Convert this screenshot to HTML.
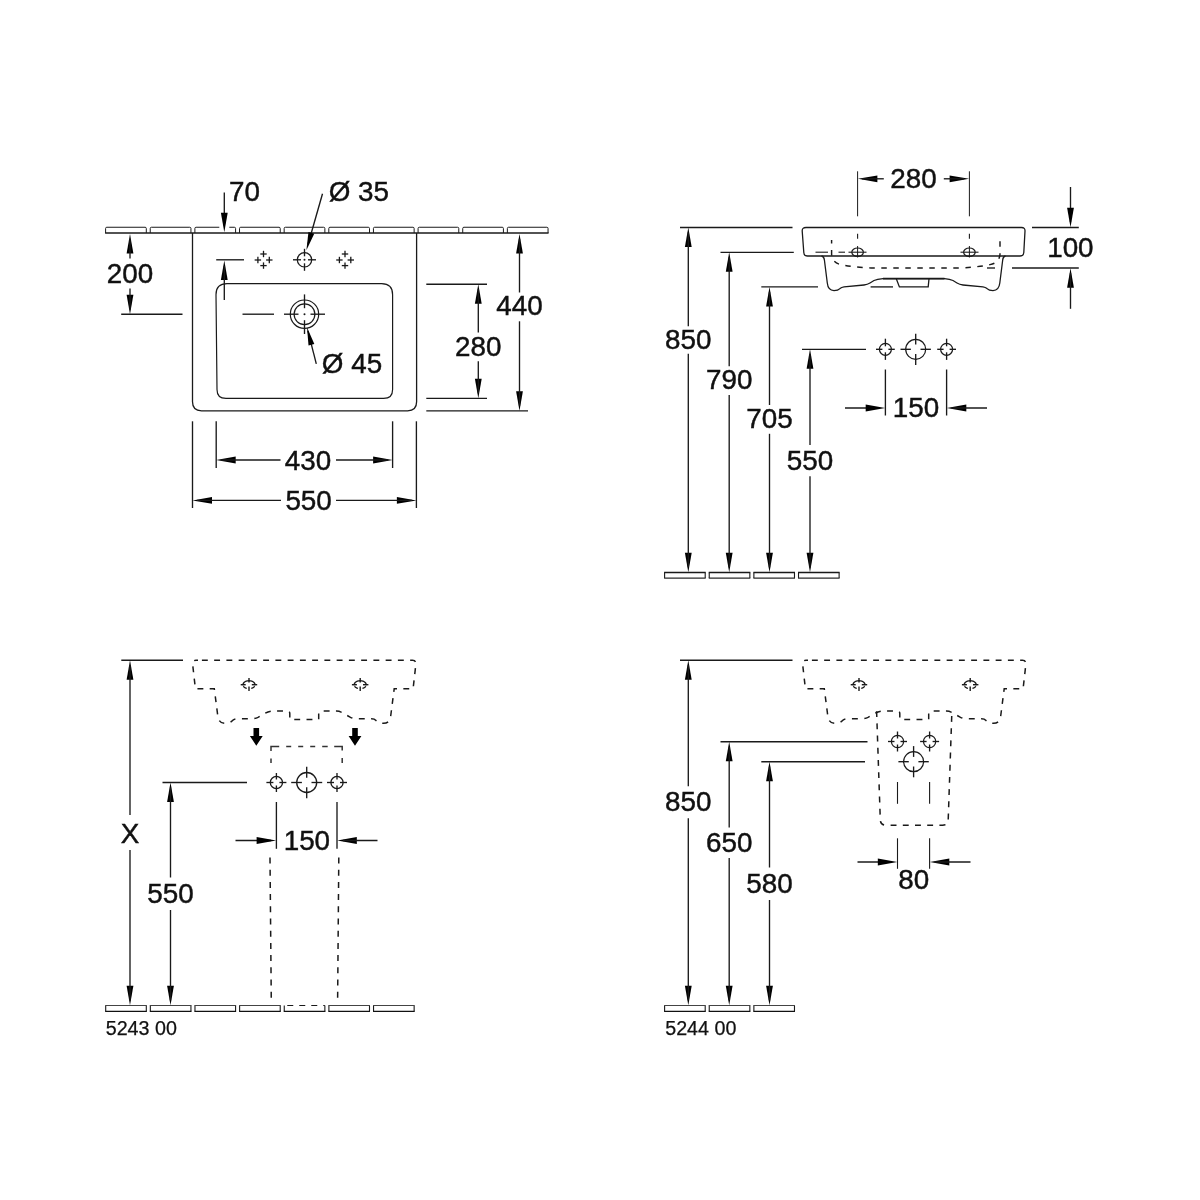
<!DOCTYPE html>
<html lang="en">
<head>
<meta charset="utf-8">
<title>Washbasin technical drawing 5243 00 / 5244 00</title>
<style>
html,body{margin:0;padding:0;background:#fff;}
body{width:1200px;height:1200px;overflow:hidden;}
svg{display:block;filter:grayscale(1);}
svg text{font-family:"Liberation Sans",sans-serif;fill:#111;}
</style>
</head>
<body>
<svg width="1200" height="1200" viewBox="0 0 1200 1200">
<rect width="1200" height="1200" fill="#fff"/>
<path d="M105.60,233.00 V228.45 Q105.60,227.25 106.80,227.25 H145.10 Q146.30,227.25 146.30,228.45 V233.00" fill="none" stroke="#1a1a1a" stroke-width="1.0" />
<path d="M150.24,233.00 V228.45 Q150.24,227.25 151.44,227.25 H189.74 Q190.94,227.25 190.94,228.45 V233.00" fill="none" stroke="#1a1a1a" stroke-width="1.0" />
<path d="M194.88,233.00 V228.45 Q194.88,227.25 196.08,227.25 H234.38 Q235.58,227.25 235.58,228.45 V233.00" fill="none" stroke="#1a1a1a" stroke-width="1.0" />
<path d="M239.52,233.00 V228.45 Q239.52,227.25 240.72,227.25 H279.02 Q280.22,227.25 280.22,228.45 V233.00" fill="none" stroke="#1a1a1a" stroke-width="1.0" />
<path d="M284.16,233.00 V228.45 Q284.16,227.25 285.36,227.25 H323.66 Q324.86,227.25 324.86,228.45 V233.00" fill="none" stroke="#1a1a1a" stroke-width="1.0" />
<path d="M328.80,233.00 V228.45 Q328.80,227.25 330.00,227.25 H368.30 Q369.50,227.25 369.50,228.45 V233.00" fill="none" stroke="#1a1a1a" stroke-width="1.0" />
<path d="M373.44,233.00 V228.45 Q373.44,227.25 374.64,227.25 H412.94 Q414.14,227.25 414.14,228.45 V233.00" fill="none" stroke="#1a1a1a" stroke-width="1.0" />
<path d="M418.08,233.00 V228.45 Q418.08,227.25 419.28,227.25 H457.58 Q458.78,227.25 458.78,228.45 V233.00" fill="none" stroke="#1a1a1a" stroke-width="1.0" />
<path d="M462.72,233.00 V228.45 Q462.72,227.25 463.92,227.25 H502.22 Q503.42,227.25 503.42,228.45 V233.00" fill="none" stroke="#1a1a1a" stroke-width="1.0" />
<path d="M507.36,233.00 V228.45 Q507.36,227.25 508.56,227.25 H546.86 Q548.06,227.25 548.06,228.45 V233.00" fill="none" stroke="#1a1a1a" stroke-width="1.0" />
<line x1="105.10" y1="233.00" x2="548.56" y2="233.00" stroke="#1a1a1a" stroke-width="1.6" />
<path d="M192.5,233.0 V401.8 Q192.5,410.8 201.5,410.8 H407.6 Q416.6,410.8 416.6,401.8 V233.0" fill="none" stroke="#1a1a1a" stroke-width="1.3" />
<path d="M227.0,283.7 H381.6 Q392.6,283.7 392.6,294.7 V389.4 Q392.6,398.4 383.6,398.4 H226.0 Q217.0,398.4 217.0,389.4 L216.0,294.7 Q216.0,283.7 227.0,283.7 Z" fill="none" stroke="#1a1a1a" stroke-width="1.2" />
<circle cx="304.50" cy="259.80" r="7.20" fill="none" stroke="#1a1a1a" stroke-width="1.2" />
<line x1="293.00" y1="259.80" x2="301.00" y2="259.80" stroke="#1a1a1a" stroke-width="1.35" />
<line x1="308.00" y1="259.80" x2="316.00" y2="259.80" stroke="#1a1a1a" stroke-width="1.35" />
<line x1="304.50" y1="248.80" x2="304.50" y2="256.30" stroke="#1a1a1a" stroke-width="1.35" />
<line x1="304.50" y1="263.30" x2="304.50" y2="270.80" stroke="#1a1a1a" stroke-width="1.35" />
<circle cx="304.50" cy="259.80" r="1.0" fill="#1a1a1a"/>
<line x1="260.30" y1="254.00" x2="266.70" y2="254.00" stroke="#1a1a1a" stroke-width="1.3" />
<line x1="263.50" y1="250.80" x2="263.50" y2="257.20" stroke="#1a1a1a" stroke-width="1.3" />
<line x1="254.70" y1="260.00" x2="261.10" y2="260.00" stroke="#1a1a1a" stroke-width="1.3" />
<line x1="257.90" y1="256.80" x2="257.90" y2="263.20" stroke="#1a1a1a" stroke-width="1.3" />
<line x1="266.10" y1="260.00" x2="272.50" y2="260.00" stroke="#1a1a1a" stroke-width="1.3" />
<line x1="269.30" y1="256.80" x2="269.30" y2="263.20" stroke="#1a1a1a" stroke-width="1.3" />
<line x1="260.30" y1="265.60" x2="266.70" y2="265.60" stroke="#1a1a1a" stroke-width="1.3" />
<line x1="263.50" y1="262.40" x2="263.50" y2="268.80" stroke="#1a1a1a" stroke-width="1.3" />
<line x1="341.80" y1="254.00" x2="348.20" y2="254.00" stroke="#1a1a1a" stroke-width="1.3" />
<line x1="345.00" y1="250.80" x2="345.00" y2="257.20" stroke="#1a1a1a" stroke-width="1.3" />
<line x1="336.20" y1="260.00" x2="342.60" y2="260.00" stroke="#1a1a1a" stroke-width="1.3" />
<line x1="339.40" y1="256.80" x2="339.40" y2="263.20" stroke="#1a1a1a" stroke-width="1.3" />
<line x1="347.60" y1="260.00" x2="354.00" y2="260.00" stroke="#1a1a1a" stroke-width="1.3" />
<line x1="350.80" y1="256.80" x2="350.80" y2="263.20" stroke="#1a1a1a" stroke-width="1.3" />
<line x1="341.80" y1="265.60" x2="348.20" y2="265.60" stroke="#1a1a1a" stroke-width="1.3" />
<line x1="345.00" y1="262.40" x2="345.00" y2="268.80" stroke="#1a1a1a" stroke-width="1.3" />
<circle cx="304.50" cy="314.20" r="14.20" fill="none" stroke="#1a1a1a" stroke-width="1.2" />
<circle cx="304.50" cy="314.20" r="10.40" fill="none" stroke="#1a1a1a" stroke-width="1.2" />
<line x1="284.00" y1="314.20" x2="298.50" y2="314.20" stroke="#1a1a1a" stroke-width="1.35" />
<line x1="310.50" y1="314.20" x2="325.00" y2="314.20" stroke="#1a1a1a" stroke-width="1.35" />
<line x1="304.50" y1="294.40" x2="304.50" y2="308.20" stroke="#1a1a1a" stroke-width="1.35" />
<line x1="304.50" y1="320.20" x2="304.50" y2="334.00" stroke="#1a1a1a" stroke-width="1.35" />
<circle cx="304.50" cy="314.20" r="1.0" fill="#1a1a1a"/>
<line x1="216.20" y1="259.80" x2="244.00" y2="259.80" stroke="#1a1a1a" stroke-width="1.35" />
<line x1="242.50" y1="314.20" x2="274.00" y2="314.20" stroke="#1a1a1a" stroke-width="1.35" />
<line x1="121.20" y1="314.20" x2="182.50" y2="314.20" stroke="#1a1a1a" stroke-width="1.35" />
<polygon points="130.00,234.00 133.40,253.50 126.60,253.50" fill="#000"/>
<polygon points="130.00,314.20 126.60,294.70 133.40,294.70" fill="#000"/>
<line x1="130.00" y1="239.00" x2="130.00" y2="258.50" stroke="#1a1a1a" stroke-width="1.35" />
<line x1="130.00" y1="288.50" x2="130.00" y2="309.20" stroke="#1a1a1a" stroke-width="1.35" />
<text x="130.00" y="282.70" font-size="27.8" text-anchor="middle" stroke="#111" stroke-width="0.45">200</text>
<rect x="219.3" y="225.5" width="10" height="4.2" fill="#fff"/>
<line x1="224.30" y1="192.50" x2="224.30" y2="218.00" stroke="#1a1a1a" stroke-width="1.35" />
<polygon points="224.30,232.20 220.90,212.70 227.70,212.70" fill="#000"/>
<polygon points="224.30,260.50 227.70,280.00 220.90,280.00" fill="#000"/>
<line x1="224.30" y1="266.00" x2="224.30" y2="300.00" stroke="#1a1a1a" stroke-width="1.35" />
<text x="244.50" y="201.40" font-size="27.8" text-anchor="middle" stroke="#111" stroke-width="0.45">70</text>
<text x="358.80" y="201.40" font-size="27.8" text-anchor="middle" stroke="#111" stroke-width="0.45">&#216; 35</text>
<line x1="322.50" y1="193.80" x2="308.01" y2="244.56" stroke="#1a1a1a" stroke-width="1.35" />
<polygon points="306.40,250.20 308.46,232.07 314.23,233.71" fill="#000"/>
<text x="352.00" y="372.60" font-size="27.8" text-anchor="middle" stroke="#111" stroke-width="0.45">&#216; 45</text>
<line x1="316.30" y1="363.80" x2="307.93" y2="330.86" stroke="#1a1a1a" stroke-width="1.35" />
<polygon points="307.00,327.20 314.34,343.91 308.53,345.38" fill="#000"/>
<line x1="426.30" y1="284.20" x2="487.00" y2="284.20" stroke="#1a1a1a" stroke-width="1.35" />
<line x1="426.30" y1="398.30" x2="487.00" y2="398.30" stroke="#1a1a1a" stroke-width="1.35" />
<polygon points="478.30,284.20 481.70,303.70 474.90,303.70" fill="#000"/>
<polygon points="478.30,398.30 474.90,378.80 481.70,378.80" fill="#000"/>
<line x1="478.30" y1="289.20" x2="478.30" y2="332.50" stroke="#1a1a1a" stroke-width="1.35" />
<line x1="478.30" y1="361.30" x2="478.30" y2="393.30" stroke="#1a1a1a" stroke-width="1.35" />
<text x="478.30" y="355.60" font-size="27.8" text-anchor="middle" stroke="#111" stroke-width="0.45">280</text>
<line x1="426.30" y1="410.80" x2="528.00" y2="410.80" stroke="#1a1a1a" stroke-width="1.35" />
<polygon points="519.50,234.00 522.90,253.50 516.10,253.50" fill="#000"/>
<polygon points="519.50,410.80 516.10,391.30 522.90,391.30" fill="#000"/>
<line x1="519.50" y1="239.00" x2="519.50" y2="292.50" stroke="#1a1a1a" stroke-width="1.35" />
<line x1="519.50" y1="321.30" x2="519.50" y2="405.80" stroke="#1a1a1a" stroke-width="1.35" />
<text x="519.50" y="315.20" font-size="27.8" text-anchor="middle" stroke="#111" stroke-width="0.45">440</text>
<line x1="216.20" y1="421.30" x2="216.20" y2="468.00" stroke="#1a1a1a" stroke-width="1.35" />
<line x1="392.60" y1="421.30" x2="392.60" y2="468.00" stroke="#1a1a1a" stroke-width="1.35" />
<polygon points="216.20,460.00 235.70,456.60 235.70,463.40" fill="#000"/>
<polygon points="392.60,460.00 373.10,463.40 373.10,456.60" fill="#000"/>
<line x1="221.00" y1="460.00" x2="280.50" y2="460.00" stroke="#1a1a1a" stroke-width="1.35" />
<line x1="336.00" y1="460.00" x2="388.00" y2="460.00" stroke="#1a1a1a" stroke-width="1.35" />
<text x="308.00" y="469.60" font-size="27.8" text-anchor="middle" stroke="#111" stroke-width="0.45">430</text>
<line x1="192.50" y1="421.30" x2="192.50" y2="508.00" stroke="#1a1a1a" stroke-width="1.35" />
<line x1="416.40" y1="421.30" x2="416.40" y2="508.00" stroke="#1a1a1a" stroke-width="1.35" />
<polygon points="192.50,500.40 212.00,497.00 212.00,503.80" fill="#000"/>
<polygon points="416.40,500.40 396.90,503.80 396.90,497.00" fill="#000"/>
<line x1="197.00" y1="500.40" x2="281.00" y2="500.40" stroke="#1a1a1a" stroke-width="1.35" />
<line x1="336.00" y1="500.40" x2="412.00" y2="500.40" stroke="#1a1a1a" stroke-width="1.35" />
<text x="308.60" y="510.10" font-size="27.8" text-anchor="middle" stroke="#111" stroke-width="0.45">550</text>
<path d="M664.60,572.40 V578.10 M705.20,572.40 V578.10" fill="none" stroke="#1a1a1a" stroke-width="1.1" />
<line x1="664.10" y1="578.10" x2="705.70" y2="578.10" stroke="#2a2a2a" stroke-width="1.2" />
<line x1="664.10" y1="572.40" x2="705.70" y2="572.40" stroke="#1a1a1a" stroke-width="1.5" />
<path d="M709.24,572.40 V578.10 M749.84,572.40 V578.10" fill="none" stroke="#1a1a1a" stroke-width="1.1" />
<line x1="708.74" y1="578.10" x2="750.34" y2="578.10" stroke="#2a2a2a" stroke-width="1.2" />
<line x1="708.74" y1="572.40" x2="750.34" y2="572.40" stroke="#1a1a1a" stroke-width="1.5" />
<path d="M753.88,572.40 V578.10 M794.48,572.40 V578.10" fill="none" stroke="#1a1a1a" stroke-width="1.1" />
<line x1="753.38" y1="578.10" x2="794.98" y2="578.10" stroke="#2a2a2a" stroke-width="1.2" />
<line x1="753.38" y1="572.40" x2="794.98" y2="572.40" stroke="#1a1a1a" stroke-width="1.5" />
<path d="M798.52,572.40 V578.10 M839.12,572.40 V578.10" fill="none" stroke="#1a1a1a" stroke-width="1.1" />
<line x1="798.02" y1="578.10" x2="839.62" y2="578.10" stroke="#2a2a2a" stroke-width="1.2" />
<line x1="798.02" y1="572.40" x2="839.62" y2="572.40" stroke="#1a1a1a" stroke-width="1.5" />
<line x1="680.00" y1="227.50" x2="792.50" y2="227.50" stroke="#1a1a1a" stroke-width="1.35" />
<polygon points="688.30,227.50 691.70,247.00 684.90,247.00" fill="#000"/>
<polygon points="688.30,572.20 684.90,552.70 691.70,552.70" fill="#000"/>
<line x1="688.30" y1="232.50" x2="688.30" y2="326.30" stroke="#1a1a1a" stroke-width="1.35" />
<line x1="688.30" y1="353.80" x2="688.30" y2="567.20" stroke="#1a1a1a" stroke-width="1.35" />
<text x="688.30" y="348.90" font-size="27.8" text-anchor="middle" stroke="#111" stroke-width="0.45">850</text>
<line x1="720.50" y1="252.30" x2="793.80" y2="252.30" stroke="#1a1a1a" stroke-width="1.35" />
<polygon points="729.20,252.30 732.60,271.80 725.80,271.80" fill="#000"/>
<polygon points="729.20,572.20 725.80,552.70 732.60,552.70" fill="#000"/>
<line x1="729.20" y1="257.30" x2="729.20" y2="366.30" stroke="#1a1a1a" stroke-width="1.35" />
<line x1="729.20" y1="395.00" x2="729.20" y2="567.20" stroke="#1a1a1a" stroke-width="1.35" />
<text x="729.20" y="389.30" font-size="27.8" text-anchor="middle" stroke="#111" stroke-width="0.45">790</text>
<line x1="761.30" y1="286.90" x2="818.00" y2="286.90" stroke="#1a1a1a" stroke-width="1.35" />
<polygon points="769.50,286.90 772.90,306.40 766.10,306.40" fill="#000"/>
<polygon points="769.50,572.20 766.10,552.70 772.90,552.70" fill="#000"/>
<line x1="769.50" y1="291.90" x2="769.50" y2="405.00" stroke="#1a1a1a" stroke-width="1.35" />
<line x1="769.50" y1="433.80" x2="769.50" y2="567.20" stroke="#1a1a1a" stroke-width="1.35" />
<text x="769.50" y="428.40" font-size="27.8" text-anchor="middle" stroke="#111" stroke-width="0.45">705</text>
<line x1="802.00" y1="349.30" x2="866.00" y2="349.30" stroke="#1a1a1a" stroke-width="1.35" />
<polygon points="810.00,349.30 813.40,368.80 806.60,368.80" fill="#000"/>
<polygon points="810.00,572.20 806.60,552.70 813.40,552.70" fill="#000"/>
<line x1="810.00" y1="354.30" x2="810.00" y2="445.00" stroke="#1a1a1a" stroke-width="1.35" />
<line x1="810.00" y1="476.30" x2="810.00" y2="567.20" stroke="#1a1a1a" stroke-width="1.35" />
<text x="810.00" y="470.10" font-size="27.8" text-anchor="middle" stroke="#111" stroke-width="0.45">550</text>
<path d="M806,227.5 H1021.5 Q1025.2,227.5 1025,231 L1023.8,252.5 Q1023.5,256 1020,256 H807.5 Q804,256 803.8,252.5 L802.2,231 Q802,227.5 806,227.5 Z" fill="none" stroke="#1a1a1a" stroke-width="1.3" />
<path d="M821.5,256 Q824,256.5 824.4,260 L827.3,283 Q828,290.4 834,290.6 Q838,290.6 840,288.6 Q841.5,287.2 844,286.9 L864,285 Q867.5,284.6 870,283 L874,280.5 Q877,279.3 883,278.7 H944.5 Q950,279.3 953,280.5 L957,283 Q959.5,284.6 963,285 L983,286.9 Q985.5,287.2 987,288.6 Q989,290.6 993,290.6 Q999,290.4 999.8,283 L1002.7,260 Q1003,256.5 1005.5,256" fill="none" stroke="#1a1a1a" stroke-width="1.3" />
<path d="M896.3,278.7 L899.4,286.9 H928.2 L929,278.7" fill="none" stroke="#1a1a1a" stroke-width="1.3" />
<line x1="883.00" y1="278.70" x2="944.50" y2="278.70" stroke="#1a1a1a" stroke-width="1.7" />
<path d="M831.6,240 V254 Q832,263 841,264.6 Q850,266.8 871,268 H960 Q981,266.8 990,264.6 Q999.5,263 1000,254 V240" fill="none" stroke="#1a1a1a" stroke-width="1.45" stroke-dasharray="5.5 6.5" stroke-dashoffset="2"/>
<line x1="815.50" y1="252.20" x2="828.00" y2="252.20" stroke="#1a1a1a" stroke-width="1.1" />
<line x1="838.50" y1="252.20" x2="845.00" y2="252.20" stroke="#1a1a1a" stroke-width="1.1" />
<line x1="848.50" y1="252.20" x2="866.50" y2="252.20" stroke="#1a1a1a" stroke-width="1.1" />
<line x1="960.50" y1="252.20" x2="978.50" y2="252.20" stroke="#1a1a1a" stroke-width="1.1" />
<line x1="870.60" y1="286.90" x2="893.00" y2="286.90" stroke="#1a1a1a" stroke-width="1.35" />
<ellipse cx="857.60" cy="252.20" rx="5.80" ry="4.20" fill="none" stroke="#1a1a1a" stroke-width="1.2" />
<line x1="857.60" y1="233.80" x2="857.60" y2="238.80" stroke="#1a1a1a" stroke-width="1.1" />
<line x1="857.60" y1="246.00" x2="857.60" y2="257.50" stroke="#1a1a1a" stroke-width="1.0" />
<ellipse cx="969.40" cy="252.20" rx="5.80" ry="4.20" fill="none" stroke="#1a1a1a" stroke-width="1.2" />
<line x1="969.40" y1="233.80" x2="969.40" y2="238.80" stroke="#1a1a1a" stroke-width="1.1" />
<line x1="969.40" y1="246.00" x2="969.40" y2="257.50" stroke="#1a1a1a" stroke-width="1.0" />
<line x1="857.60" y1="171.30" x2="857.60" y2="216.30" stroke="#1a1a1a" stroke-width="1.0" />
<line x1="969.40" y1="171.30" x2="969.40" y2="216.30" stroke="#1a1a1a" stroke-width="1.0" />
<polygon points="857.90,178.80 877.40,175.40 877.40,182.20" fill="#000"/>
<polygon points="969.10,178.80 949.60,182.20 949.60,175.40" fill="#000"/>
<line x1="862.00" y1="178.80" x2="883.80" y2="178.80" stroke="#1a1a1a" stroke-width="1.35" />
<line x1="943.80" y1="178.80" x2="964.00" y2="178.80" stroke="#1a1a1a" stroke-width="1.35" />
<text x="913.50" y="187.60" font-size="27.8" text-anchor="middle" stroke="#111" stroke-width="0.45">280</text>
<line x1="1032.00" y1="227.50" x2="1078.80" y2="227.50" stroke="#1a1a1a" stroke-width="1.35" />
<line x1="1012.00" y1="268.00" x2="1078.80" y2="268.00" stroke="#1a1a1a" stroke-width="1.35" />
<line x1="987.00" y1="268.00" x2="995.00" y2="268.00" stroke="#1a1a1a" stroke-width="1.35" />
<line x1="1070.50" y1="187.00" x2="1070.50" y2="222.00" stroke="#1a1a1a" stroke-width="1.35" />
<polygon points="1070.50,227.30 1067.10,207.80 1073.90,207.80" fill="#000"/>
<polygon points="1070.50,268.20 1073.90,287.70 1067.10,287.70" fill="#000"/>
<line x1="1070.50" y1="273.00" x2="1070.50" y2="308.80" stroke="#1a1a1a" stroke-width="1.35" />
<text x="1070.40" y="257.10" font-size="27.8" text-anchor="middle" stroke="#111" stroke-width="0.45">100</text>
<circle cx="885.40" cy="349.30" r="6.00" fill="none" stroke="#1a1a1a" stroke-width="1.2" />
<line x1="876.00" y1="349.30" x2="882.40" y2="349.30" stroke="#1a1a1a" stroke-width="1.35" />
<line x1="888.40" y1="349.30" x2="894.80" y2="349.30" stroke="#1a1a1a" stroke-width="1.35" />
<line x1="885.40" y1="338.70" x2="885.40" y2="346.30" stroke="#1a1a1a" stroke-width="1.35" />
<line x1="885.40" y1="352.30" x2="885.40" y2="359.90" stroke="#1a1a1a" stroke-width="1.35" />
<circle cx="946.60" cy="349.30" r="6.00" fill="none" stroke="#1a1a1a" stroke-width="1.2" />
<line x1="937.20" y1="349.30" x2="943.60" y2="349.30" stroke="#1a1a1a" stroke-width="1.35" />
<line x1="949.60" y1="349.30" x2="956.00" y2="349.30" stroke="#1a1a1a" stroke-width="1.35" />
<line x1="946.60" y1="338.70" x2="946.60" y2="346.30" stroke="#1a1a1a" stroke-width="1.35" />
<line x1="946.60" y1="352.30" x2="946.60" y2="359.90" stroke="#1a1a1a" stroke-width="1.35" />
<circle cx="915.70" cy="349.30" r="10.00" fill="none" stroke="#1a1a1a" stroke-width="1.2" />
<line x1="900.50" y1="349.30" x2="910.90" y2="349.30" stroke="#1a1a1a" stroke-width="1.35" />
<line x1="920.50" y1="349.30" x2="930.90" y2="349.30" stroke="#1a1a1a" stroke-width="1.35" />
<line x1="915.70" y1="333.70" x2="915.70" y2="344.50" stroke="#1a1a1a" stroke-width="1.35" />
<line x1="915.70" y1="354.10" x2="915.70" y2="364.90" stroke="#1a1a1a" stroke-width="1.35" />
<line x1="885.40" y1="369.50" x2="885.40" y2="415.50" stroke="#1a1a1a" stroke-width="1.35" />
<line x1="946.60" y1="369.50" x2="946.60" y2="415.50" stroke="#1a1a1a" stroke-width="1.35" />
<line x1="845.00" y1="408.00" x2="880.00" y2="408.00" stroke="#1a1a1a" stroke-width="1.35" />
<polygon points="885.20,408.00 865.70,411.40 865.70,404.60" fill="#000"/>
<polygon points="946.80,408.00 966.30,404.60 966.30,411.40" fill="#000"/>
<line x1="952.00" y1="408.00" x2="987.00" y2="408.00" stroke="#1a1a1a" stroke-width="1.35" />
<text x="916.00" y="417.10" font-size="27.8" text-anchor="middle" stroke="#111" stroke-width="0.45">150</text>
<path d="M105.70,1005.50 V1011.40 M146.30,1005.50 V1011.40" fill="none" stroke="#1a1a1a" stroke-width="1.1" />
<line x1="105.20" y1="1011.40" x2="146.80" y2="1011.40" stroke="#111" stroke-width="1.4" />
<line x1="105.20" y1="1005.50" x2="146.80" y2="1005.50" stroke="#444" stroke-width="1.0" />
<path d="M150.34,1005.50 V1011.40 M190.94,1005.50 V1011.40" fill="none" stroke="#1a1a1a" stroke-width="1.1" />
<line x1="149.84" y1="1011.40" x2="191.44" y2="1011.40" stroke="#111" stroke-width="1.4" />
<line x1="149.84" y1="1005.50" x2="191.44" y2="1005.50" stroke="#444" stroke-width="1.0" />
<path d="M194.98,1005.50 V1011.40 M235.58,1005.50 V1011.40" fill="none" stroke="#1a1a1a" stroke-width="1.1" />
<line x1="194.48" y1="1011.40" x2="236.08" y2="1011.40" stroke="#111" stroke-width="1.4" />
<line x1="194.48" y1="1005.50" x2="236.08" y2="1005.50" stroke="#444" stroke-width="1.0" />
<path d="M239.62,1005.50 V1011.40 M280.22,1005.50 V1011.40" fill="none" stroke="#1a1a1a" stroke-width="1.1" />
<line x1="239.12" y1="1011.40" x2="280.72" y2="1011.40" stroke="#111" stroke-width="1.4" />
<line x1="239.12" y1="1005.50" x2="280.72" y2="1005.50" stroke="#444" stroke-width="1.0" />
<path d="M284.26,1005.50 V1011.40 M324.86,1005.50 V1011.40" fill="none" stroke="#1a1a1a" stroke-width="1.1" />
<line x1="283.76" y1="1011.40" x2="325.36" y2="1011.40" stroke="#111" stroke-width="1.4" />
<line x1="287.26" y1="1005.50" x2="324.86" y2="1005.50" stroke="#1a1a1a" stroke-width="1.2" stroke-dasharray="6 6"/>
<path d="M328.90,1005.50 V1011.40 M369.50,1005.50 V1011.40" fill="none" stroke="#1a1a1a" stroke-width="1.1" />
<line x1="328.40" y1="1011.40" x2="370.00" y2="1011.40" stroke="#111" stroke-width="1.4" />
<line x1="328.40" y1="1005.50" x2="370.00" y2="1005.50" stroke="#444" stroke-width="1.0" />
<path d="M373.54,1005.50 V1011.40 M414.14,1005.50 V1011.40" fill="none" stroke="#1a1a1a" stroke-width="1.1" />
<line x1="373.04" y1="1011.40" x2="414.64" y2="1011.40" stroke="#111" stroke-width="1.4" />
<line x1="373.04" y1="1005.50" x2="414.64" y2="1005.50" stroke="#444" stroke-width="1.0" />
<line x1="121.30" y1="660.20" x2="183.00" y2="660.20" stroke="#1a1a1a" stroke-width="1.35" />
<polygon points="130.00,660.20 133.40,679.70 126.60,679.70" fill="#000"/>
<polygon points="130.00,1005.30 126.60,985.80 133.40,985.80" fill="#000"/>
<line x1="130.00" y1="665.20" x2="130.00" y2="815.00" stroke="#1a1a1a" stroke-width="1.35" />
<line x1="130.00" y1="850.00" x2="130.00" y2="1000.30" stroke="#1a1a1a" stroke-width="1.35" />
<text x="130.00" y="842.60" font-size="27.8" text-anchor="middle" stroke="#111" stroke-width="0.45">X</text>
<line x1="162.50" y1="782.50" x2="247.00" y2="782.50" stroke="#1a1a1a" stroke-width="1.35" />
<polygon points="170.50,782.50 173.90,802.00 167.10,802.00" fill="#000"/>
<polygon points="170.50,1005.30 167.10,985.80 173.90,985.80" fill="#000"/>
<line x1="170.50" y1="787.50" x2="170.50" y2="877.50" stroke="#1a1a1a" stroke-width="1.35" />
<line x1="170.50" y1="910.00" x2="170.50" y2="1000.30" stroke="#1a1a1a" stroke-width="1.35" />
<text x="170.50" y="903.40" font-size="27.8" text-anchor="middle" stroke="#111" stroke-width="0.45">550</text>
<text x="105.70" y="1035.40" font-size="19.7" text-anchor="start" stroke="#111" stroke-width="0.25">5243 00</text>
<path d="M201.90,660.25 L412.50,660.25 Q416.10,660.40 415.90,664.00 L413.10,688.70 L394.20,688.70 L390.70,716.00 Q389.90,723.20 383.50,723.30 Q378.50,723.20 376.00,720.50 Q374.50,718.80 371.50,718.80 L357.50,718.80 Q353.50,718.80 350.50,717.30 L344.50,714.00 Q340.50,711.20 336.50,711.10 L321.00,711.10 Q318.70,711.10 318.70,713.50 L318.70,719.40 L304.25,719.40 L289.80,719.40 L289.80,713.50 Q289.80,711.10 287.50,711.10 L272.00,711.10 Q268.00,711.20 264.00,714.00 L258.00,717.30 Q255.00,718.80 251.00,718.80 L237.00,718.80 Q234.00,718.80 232.50,720.50 Q230.00,723.20 225.00,723.30 Q218.60,723.20 217.80,716.00 L214.30,688.70 L195.40,688.70 L192.60,664.00 Q192.40,660.40 196.00,660.25 L198.00,660.25" fill="none" stroke="#1a1a1a" stroke-width="1.5" stroke-dasharray="5.9 6.35"/>
<path d="M243.06,685.26 L243.03,684.28 L243.36,683.33 L244.03,682.46 L244.99,681.73 L246.18,681.17 L247.55,680.82 L249.00,680.70 L250.45,680.82 L251.82,681.17 L253.01,681.73 L253.97,682.46 L254.64,683.33 L254.97,684.28 L254.94,685.26" fill="none" stroke="#1a1a1a" stroke-width="1.4" />
<path d="M246.75,688.41 L246.44,688.32 L246.13,688.21 L245.83,688.10 L245.55,687.97 L245.27,687.83 L245.01,687.69 L244.76,687.53 L244.52,687.36 L244.30,687.19 L244.09,687.00 L243.90,686.81 L243.73,686.61 L243.57,686.41 L243.44,686.20" fill="none" stroke="#1a1a1a" stroke-width="1.4" />
<path d="M254.56,686.20 L254.43,686.41 L254.27,686.61 L254.10,686.81 L253.91,687.00 L253.70,687.19 L253.48,687.36 L253.24,687.53 L252.99,687.69 L252.73,687.83 L252.45,687.97 L252.17,688.10 L251.87,688.21 L251.56,688.32 L251.25,688.41" fill="none" stroke="#1a1a1a" stroke-width="1.4" />
<line x1="240.70" y1="684.70" x2="245.70" y2="684.70" stroke="#1a1a1a" stroke-width="1.4" />
<line x1="251.80" y1="684.70" x2="257.20" y2="684.70" stroke="#1a1a1a" stroke-width="1.4" />
<line x1="249.00" y1="678.00" x2="249.00" y2="682.40" stroke="#1a1a1a" stroke-width="1.4" />
<line x1="249.00" y1="686.50" x2="249.00" y2="690.90" stroke="#1a1a1a" stroke-width="1.4" />
<path d="M354.26,685.26 L354.23,684.28 L354.56,683.33 L355.23,682.46 L356.19,681.73 L357.38,681.17 L358.75,680.82 L360.20,680.70 L361.65,680.82 L363.02,681.17 L364.21,681.73 L365.17,682.46 L365.84,683.33 L366.17,684.28 L366.14,685.26" fill="none" stroke="#1a1a1a" stroke-width="1.4" />
<path d="M357.95,688.41 L357.64,688.32 L357.33,688.21 L357.03,688.10 L356.75,687.97 L356.47,687.83 L356.21,687.69 L355.96,687.53 L355.72,687.36 L355.50,687.19 L355.29,687.00 L355.10,686.81 L354.93,686.61 L354.77,686.41 L354.64,686.20" fill="none" stroke="#1a1a1a" stroke-width="1.4" />
<path d="M365.76,686.20 L365.63,686.41 L365.47,686.61 L365.30,686.81 L365.11,687.00 L364.90,687.19 L364.68,687.36 L364.44,687.53 L364.19,687.69 L363.93,687.83 L363.65,687.97 L363.37,688.10 L363.07,688.21 L362.76,688.32 L362.45,688.41" fill="none" stroke="#1a1a1a" stroke-width="1.4" />
<line x1="351.90" y1="684.70" x2="356.90" y2="684.70" stroke="#1a1a1a" stroke-width="1.4" />
<line x1="363.00" y1="684.70" x2="368.40" y2="684.70" stroke="#1a1a1a" stroke-width="1.4" />
<line x1="360.20" y1="678.00" x2="360.20" y2="682.40" stroke="#1a1a1a" stroke-width="1.4" />
<line x1="360.20" y1="686.50" x2="360.20" y2="690.90" stroke="#1a1a1a" stroke-width="1.4" />
<path d="M253.5,728 H259.1 V736 H262.7 L256.3,745.8 L249.9,736 H253.5 Z" fill="#000"/>
<path d="M352.2,728 H357.8 V736 H361.4 L355.0,745.8 L348.6,736 H352.2 Z" fill="#000"/>
<path d="M271,763 V746.5 H342.2 V763" fill="none" stroke="#333" stroke-width="1.5" stroke-dasharray="4.5 7.5 12.7 7 5 7 5 7 5 7 5.5 6.5 11.9 7.5 5 100"/>
<line x1="270.00" y1="857.50" x2="271.30" y2="1003.00" stroke="#1a1a1a" stroke-width="1.5" stroke-dasharray="6 6.2"/>
<line x1="338.80" y1="857.50" x2="337.60" y2="1003.00" stroke="#1a1a1a" stroke-width="1.5" stroke-dasharray="6 6.2"/>
<circle cx="276.40" cy="782.50" r="6.10" fill="none" stroke="#1a1a1a" stroke-width="1.3" />
<line x1="266.40" y1="782.50" x2="273.40" y2="782.50" stroke="#1a1a1a" stroke-width="1.35" />
<line x1="279.40" y1="782.50" x2="286.40" y2="782.50" stroke="#1a1a1a" stroke-width="1.35" />
<line x1="276.40" y1="773.00" x2="276.40" y2="779.50" stroke="#1a1a1a" stroke-width="1.35" />
<line x1="276.40" y1="785.50" x2="276.40" y2="792.00" stroke="#1a1a1a" stroke-width="1.35" />
<circle cx="337.00" cy="782.50" r="6.10" fill="none" stroke="#1a1a1a" stroke-width="1.3" />
<line x1="327.00" y1="782.50" x2="334.00" y2="782.50" stroke="#1a1a1a" stroke-width="1.35" />
<line x1="340.00" y1="782.50" x2="347.00" y2="782.50" stroke="#1a1a1a" stroke-width="1.35" />
<line x1="337.00" y1="773.00" x2="337.00" y2="779.50" stroke="#1a1a1a" stroke-width="1.35" />
<line x1="337.00" y1="785.50" x2="337.00" y2="792.00" stroke="#1a1a1a" stroke-width="1.35" />
<circle cx="306.70" cy="782.50" r="10.00" fill="none" stroke="#1a1a1a" stroke-width="1.3" />
<line x1="291.20" y1="782.50" x2="301.90" y2="782.50" stroke="#1a1a1a" stroke-width="1.35" />
<line x1="311.50" y1="782.50" x2="322.20" y2="782.50" stroke="#1a1a1a" stroke-width="1.35" />
<line x1="306.70" y1="766.70" x2="306.70" y2="777.70" stroke="#1a1a1a" stroke-width="1.35" />
<line x1="306.70" y1="787.30" x2="306.70" y2="798.30" stroke="#1a1a1a" stroke-width="1.35" />
<line x1="276.40" y1="802.00" x2="276.40" y2="848.80" stroke="#1a1a1a" stroke-width="1.35" />
<line x1="337.00" y1="802.00" x2="337.00" y2="848.80" stroke="#1a1a1a" stroke-width="1.35" />
<line x1="235.50" y1="840.50" x2="271.00" y2="840.50" stroke="#1a1a1a" stroke-width="1.35" />
<polygon points="276.10,840.50 256.60,843.90 256.60,837.10" fill="#000"/>
<polygon points="337.30,840.50 356.80,837.10 356.80,843.90" fill="#000"/>
<line x1="343.00" y1="840.50" x2="377.50" y2="840.50" stroke="#1a1a1a" stroke-width="1.35" />
<text x="306.90" y="850.10" font-size="27.8" text-anchor="middle" stroke="#111" stroke-width="0.45">150</text>
<path d="M664.60,1005.50 V1011.40 M705.20,1005.50 V1011.40" fill="none" stroke="#1a1a1a" stroke-width="1.1" />
<line x1="664.10" y1="1011.40" x2="705.70" y2="1011.40" stroke="#111" stroke-width="1.4" />
<line x1="664.10" y1="1005.50" x2="705.70" y2="1005.50" stroke="#444" stroke-width="1.0" />
<path d="M709.24,1005.50 V1011.40 M749.84,1005.50 V1011.40" fill="none" stroke="#1a1a1a" stroke-width="1.1" />
<line x1="708.74" y1="1011.40" x2="750.34" y2="1011.40" stroke="#111" stroke-width="1.4" />
<line x1="708.74" y1="1005.50" x2="750.34" y2="1005.50" stroke="#444" stroke-width="1.0" />
<path d="M753.88,1005.50 V1011.40 M794.48,1005.50 V1011.40" fill="none" stroke="#1a1a1a" stroke-width="1.1" />
<line x1="753.38" y1="1011.40" x2="794.98" y2="1011.40" stroke="#111" stroke-width="1.4" />
<line x1="753.38" y1="1005.50" x2="794.98" y2="1005.50" stroke="#444" stroke-width="1.0" />
<line x1="680.00" y1="660.20" x2="792.50" y2="660.20" stroke="#1a1a1a" stroke-width="1.35" />
<polygon points="688.30,660.20 691.70,679.70 684.90,679.70" fill="#000"/>
<polygon points="688.30,1005.30 684.90,985.80 691.70,985.80" fill="#000"/>
<line x1="688.30" y1="665.20" x2="688.30" y2="786.30" stroke="#1a1a1a" stroke-width="1.35" />
<line x1="688.30" y1="818.20" x2="688.30" y2="1000.30" stroke="#1a1a1a" stroke-width="1.35" />
<text x="688.30" y="811.40" font-size="27.8" text-anchor="middle" stroke="#111" stroke-width="0.45">850</text>
<line x1="720.50" y1="741.70" x2="867.50" y2="741.70" stroke="#1a1a1a" stroke-width="1.35" />
<polygon points="729.20,741.70 732.60,761.20 725.80,761.20" fill="#000"/>
<polygon points="729.20,1005.30 725.80,985.80 732.60,985.80" fill="#000"/>
<line x1="729.20" y1="746.70" x2="729.20" y2="827.50" stroke="#1a1a1a" stroke-width="1.35" />
<line x1="729.20" y1="858.00" x2="729.20" y2="1000.30" stroke="#1a1a1a" stroke-width="1.35" />
<text x="729.20" y="851.70" font-size="27.8" text-anchor="middle" stroke="#111" stroke-width="0.45">650</text>
<line x1="761.30" y1="761.70" x2="865.00" y2="761.70" stroke="#1a1a1a" stroke-width="1.35" />
<polygon points="769.50,761.70 772.90,781.20 766.10,781.20" fill="#000"/>
<polygon points="769.50,1005.30 766.10,985.80 772.90,985.80" fill="#000"/>
<line x1="769.50" y1="766.70" x2="769.50" y2="867.50" stroke="#1a1a1a" stroke-width="1.35" />
<line x1="769.50" y1="900.00" x2="769.50" y2="1000.30" stroke="#1a1a1a" stroke-width="1.35" />
<text x="769.50" y="892.70" font-size="27.8" text-anchor="middle" stroke="#111" stroke-width="0.45">580</text>
<text x="665.20" y="1035.40" font-size="19.7" text-anchor="start" stroke="#111" stroke-width="0.25">5244 00</text>
<path d="M811.90,660.25 L1022.50,660.25 Q1026.10,660.40 1025.90,664.00 L1023.10,688.70 L1004.20,688.70 L1000.70,716.00 Q999.90,723.20 993.50,723.30 Q988.50,723.20 986.00,720.50 Q984.50,718.80 981.50,718.80 L967.50,718.80 Q963.50,718.80 960.50,717.30 L954.50,714.00 Q950.50,711.20 946.50,711.10 L931.00,711.10 Q928.70,711.10 928.70,713.50 L928.70,719.40 L914.25,719.40 L899.80,719.40 L899.80,713.50 Q899.80,711.10 897.50,711.10 L882.00,711.10 Q878.00,711.20 874.00,714.00 L868.00,717.30 Q865.00,718.80 861.00,718.80 L847.00,718.80 Q844.00,718.80 842.50,720.50 Q840.00,723.20 835.00,723.30 Q828.60,723.20 827.80,716.00 L824.30,688.70 L805.40,688.70 L802.60,664.00 Q802.40,660.40 806.00,660.25 L808.00,660.25" fill="none" stroke="#1a1a1a" stroke-width="1.5" stroke-dasharray="5.9 6.35"/>
<path d="M853.06,685.26 L853.03,684.28 L853.36,683.33 L854.03,682.46 L854.99,681.73 L856.18,681.17 L857.55,680.82 L859.00,680.70 L860.45,680.82 L861.82,681.17 L863.01,681.73 L863.97,682.46 L864.64,683.33 L864.97,684.28 L864.94,685.26" fill="none" stroke="#1a1a1a" stroke-width="1.4" />
<path d="M856.75,688.41 L856.44,688.32 L856.13,688.21 L855.83,688.10 L855.55,687.97 L855.27,687.83 L855.01,687.69 L854.76,687.53 L854.52,687.36 L854.30,687.19 L854.09,687.00 L853.90,686.81 L853.73,686.61 L853.57,686.41 L853.44,686.20" fill="none" stroke="#1a1a1a" stroke-width="1.4" />
<path d="M864.56,686.20 L864.43,686.41 L864.27,686.61 L864.10,686.81 L863.91,687.00 L863.70,687.19 L863.48,687.36 L863.24,687.53 L862.99,687.69 L862.73,687.83 L862.45,687.97 L862.17,688.10 L861.87,688.21 L861.56,688.32 L861.25,688.41" fill="none" stroke="#1a1a1a" stroke-width="1.4" />
<line x1="850.70" y1="684.70" x2="855.70" y2="684.70" stroke="#1a1a1a" stroke-width="1.4" />
<line x1="861.80" y1="684.70" x2="867.20" y2="684.70" stroke="#1a1a1a" stroke-width="1.4" />
<line x1="859.00" y1="678.00" x2="859.00" y2="682.40" stroke="#1a1a1a" stroke-width="1.4" />
<line x1="859.00" y1="686.50" x2="859.00" y2="690.90" stroke="#1a1a1a" stroke-width="1.4" />
<path d="M964.26,685.26 L964.23,684.28 L964.56,683.33 L965.23,682.46 L966.19,681.73 L967.38,681.17 L968.75,680.82 L970.20,680.70 L971.65,680.82 L973.02,681.17 L974.21,681.73 L975.17,682.46 L975.84,683.33 L976.17,684.28 L976.14,685.26" fill="none" stroke="#1a1a1a" stroke-width="1.4" />
<path d="M967.95,688.41 L967.64,688.32 L967.33,688.21 L967.03,688.10 L966.75,687.97 L966.47,687.83 L966.21,687.69 L965.96,687.53 L965.72,687.36 L965.50,687.19 L965.29,687.00 L965.10,686.81 L964.93,686.61 L964.77,686.41 L964.64,686.20" fill="none" stroke="#1a1a1a" stroke-width="1.4" />
<path d="M975.76,686.20 L975.63,686.41 L975.47,686.61 L975.30,686.81 L975.11,687.00 L974.90,687.19 L974.68,687.36 L974.44,687.53 L974.19,687.69 L973.93,687.83 L973.65,687.97 L973.37,688.10 L973.07,688.21 L972.76,688.32 L972.45,688.41" fill="none" stroke="#1a1a1a" stroke-width="1.4" />
<line x1="961.90" y1="684.70" x2="966.90" y2="684.70" stroke="#1a1a1a" stroke-width="1.4" />
<line x1="973.00" y1="684.70" x2="978.40" y2="684.70" stroke="#1a1a1a" stroke-width="1.4" />
<line x1="970.20" y1="678.00" x2="970.20" y2="682.40" stroke="#1a1a1a" stroke-width="1.4" />
<line x1="970.20" y1="686.50" x2="970.20" y2="690.90" stroke="#1a1a1a" stroke-width="1.4" />
<path d="M876.6,711.2 L880.3,820 Q880.6,825.2 886,825.2 H942.5 Q947.9,825.2 948.2,820 L951.9,711.2" fill="none" stroke="#1a1a1a" stroke-width="1.5" stroke-dasharray="5.9 6.3" stroke-dashoffset="0"/>
<circle cx="897.50" cy="741.50" r="6.10" fill="none" stroke="#1a1a1a" stroke-width="1.2" />
<line x1="888.00" y1="741.50" x2="894.50" y2="741.50" stroke="#1a1a1a" stroke-width="1.35" />
<line x1="900.50" y1="741.50" x2="907.00" y2="741.50" stroke="#1a1a1a" stroke-width="1.35" />
<line x1="897.50" y1="731.50" x2="897.50" y2="738.50" stroke="#1a1a1a" stroke-width="1.35" />
<line x1="897.50" y1="744.50" x2="897.50" y2="751.50" stroke="#1a1a1a" stroke-width="1.35" />
<line x1="897.50" y1="782.00" x2="897.50" y2="803.80" stroke="#1a1a1a" stroke-width="1.1" />
<line x1="897.50" y1="838.30" x2="897.50" y2="868.80" stroke="#1a1a1a" stroke-width="1.1" />
<circle cx="929.60" cy="741.50" r="6.10" fill="none" stroke="#1a1a1a" stroke-width="1.2" />
<line x1="920.10" y1="741.50" x2="926.60" y2="741.50" stroke="#1a1a1a" stroke-width="1.35" />
<line x1="932.60" y1="741.50" x2="939.10" y2="741.50" stroke="#1a1a1a" stroke-width="1.35" />
<line x1="929.60" y1="731.50" x2="929.60" y2="738.50" stroke="#1a1a1a" stroke-width="1.35" />
<line x1="929.60" y1="744.50" x2="929.60" y2="751.50" stroke="#1a1a1a" stroke-width="1.35" />
<line x1="929.60" y1="782.00" x2="929.60" y2="803.80" stroke="#1a1a1a" stroke-width="1.1" />
<line x1="929.60" y1="838.30" x2="929.60" y2="868.80" stroke="#1a1a1a" stroke-width="1.1" />
<circle cx="913.60" cy="761.70" r="10.00" fill="none" stroke="#1a1a1a" stroke-width="1.2" />
<line x1="898.40" y1="761.70" x2="908.80" y2="761.70" stroke="#1a1a1a" stroke-width="1.35" />
<line x1="918.40" y1="761.70" x2="928.80" y2="761.70" stroke="#1a1a1a" stroke-width="1.35" />
<line x1="913.60" y1="746.10" x2="913.60" y2="756.90" stroke="#1a1a1a" stroke-width="1.35" />
<line x1="913.60" y1="766.50" x2="913.60" y2="777.30" stroke="#1a1a1a" stroke-width="1.35" />
<line x1="857.50" y1="862.00" x2="892.00" y2="862.00" stroke="#1a1a1a" stroke-width="1.35" />
<polygon points="897.30,862.00 877.80,865.40 877.80,858.60" fill="#000"/>
<polygon points="929.80,862.00 949.30,858.60 949.30,865.40" fill="#000"/>
<line x1="935.00" y1="862.00" x2="970.50" y2="862.00" stroke="#1a1a1a" stroke-width="1.35" />
<text x="913.80" y="888.90" font-size="27.8" text-anchor="middle" stroke="#111" stroke-width="0.45">80</text>
</svg>
</body>
</html>
